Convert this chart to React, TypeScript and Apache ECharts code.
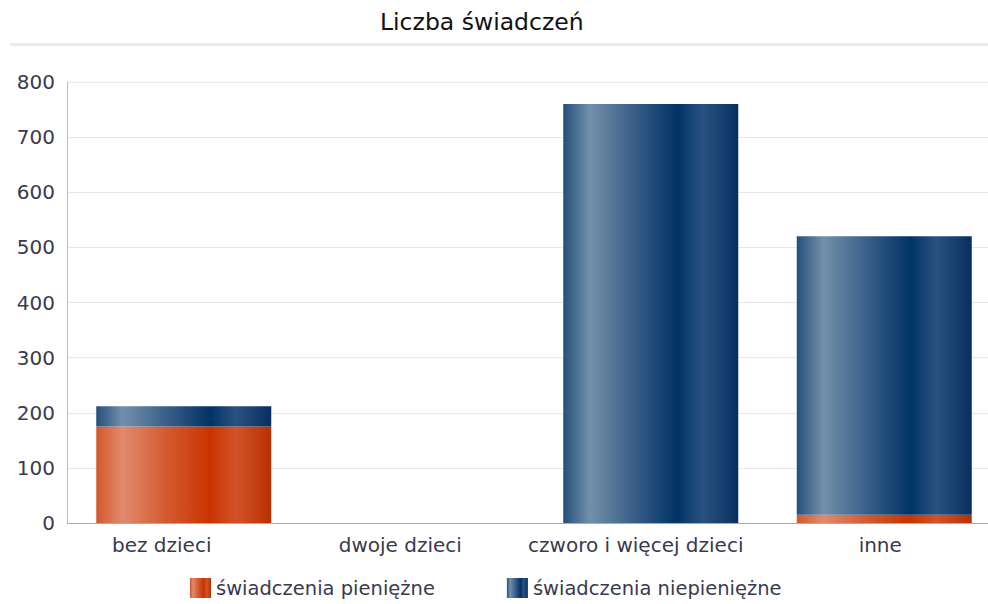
import React, { useEffect, useRef } from "react";
import * as echarts from "echarts";

const categories = ["bez dzieci", "dwoje dzieci", "czworo i więcej dzieci", "inne"];
const seriesNames = ["świadczenia pieniężne", "świadczenia niepieniężne"];
const cashValues = [175, 0, 0, 15];
const nonCashValues = [37, 0, 760, 505];
const yTicks = { min: 0, max: 800, interval: 100 };
// horizontal shift of each category label relative to its band centre (px)
const labelShift = [-22, -17, -15, -4];

const redGrad = new echarts.graphic.LinearGradient(0, 0, 1, 0, [
  { offset: 0, color: "#d4582c" },
  { offset: 0.15, color: "#e08b6d" },
  { offset: 0.4, color: "#d45a30" },
  { offset: 0.65, color: "#c93400" },
  { offset: 0.8, color: "#d25329" },
  { offset: 1, color: "#b93000" },
]);
const blueGrad = new echarts.graphic.LinearGradient(0, 0, 1, 0, [
  { offset: 0, color: "#254f7c" },
  { offset: 0.15, color: "#7290aa" },
  { offset: 0.4, color: "#3a5f88" },
  { offset: 0.65, color: "#003366" },
  { offset: 0.8, color: "#2a5280" },
  { offset: 1, color: "#062f60" },
]);

export default function App() {
  const ref = useRef<HTMLDivElement>(null);
  useEffect(() => {
    document.body.style.margin = "0";
    const chart = echarts.init(ref.current!, null, { renderer: "svg" });
    const font = "DejaVu Sans";
    const labelColor = "#3a3a4e";
    const rich: Record<string, any> = {};
    labelShift.forEach((s, i) => {
      rich["l" + i] = {
        fontFamily: font,
        fontSize: 20,
        color: labelColor,
        padding: s < 0 ? [0, -2 * s, 0, 0] : [0, 0, 0, 2 * s],
      };
    });
    chart.setOption({
      animation: false,
      textStyle: { fontFamily: font },
      title: {
        text: "Liczba świadczeń",
        left: 375,
        top: 5,
        textStyle: { fontFamily: font, fontSize: 23.5, fontWeight: "normal", color: "#111" },
      },
      graphic: [
        {
          type: "rect",
          shape: { x: 10, y: 43, width: 978, height: 3 },
          style: { fill: "#ebebef" },
          silent: true,
        },
      ],
      legend: {
        bottom: 1,
        left: 185,
        itemWidth: 21,
        itemHeight: 20,
        itemGap: 72,
        icon: "rect",
        textStyle: { fontFamily: font, fontSize: 19.5, color: labelColor },
        data: seriesNames,
      },
      grid: { left: 67, right: -13, top: 82, bottom: 81, outerBoundsMode: "none", containLabel: false },
      xAxis: {
        type: "category",
        data: categories,
        axisLine: { lineStyle: { color: "#a8a8c0", width: 1 } },
        axisTick: { show: false },
        axisLabel: {
          interval: 0,
          fontFamily: font,
          fontSize: 20,
          color: labelColor,
          margin: 12,
          formatter: (v: string, i: number) => `{l${i}|${v}}`,
          rich,
        },
      },
      yAxis: {
        type: "value",
        min: yTicks.min,
        max: yTicks.max,
        interval: yTicks.interval,
        axisLine: { show: true, lineStyle: { color: "#b8b8cc" } },
        axisTick: { show: false },
        splitLine: { lineStyle: { color: "#e6e6ec" } },
        axisLabel: { fontFamily: font, fontSize: 20, color: labelColor, margin: 12 },
      },
      series: [
        {
          name: seriesNames[0],
          type: "bar",
          stack: "s",
          barWidth: 175,
          data: cashValues,
          itemStyle: { color: redGrad },
        },
        {
          name: seriesNames[1],
          type: "bar",
          stack: "s",
          barWidth: 175,
          data: nonCashValues,
          itemStyle: { color: blueGrad },
        },
      ],
    });
    return () => chart.dispose();
  }, []);
  return <div ref={ref} style={{ width: 988, height: 604, overflow: "hidden" }} />;
}
